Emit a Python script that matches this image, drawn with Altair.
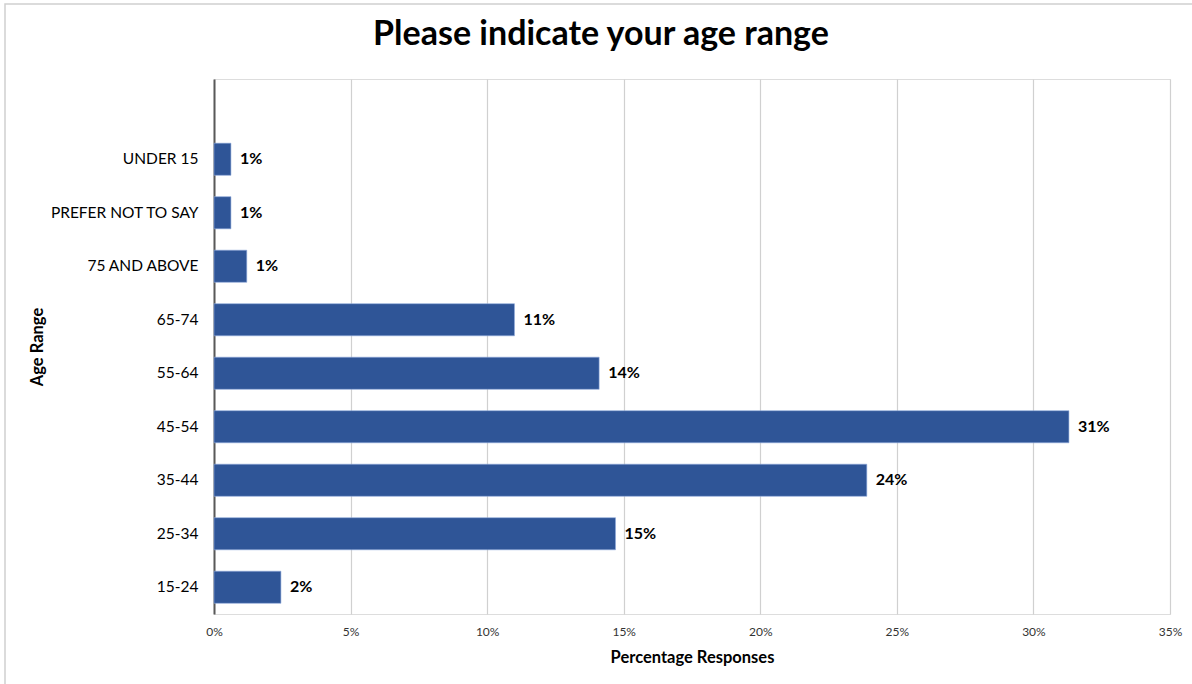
import altair as alt
import pandas as pd

categories = ["UNDER 15", "PREFER NOT TO SAY", "75 AND ABOVE", "65-74", "55-64",
              "45-54", "35-44", "25-34", "15-24"]
values = [0.62, 0.62, 1.2, 11.0, 14.1, 31.3, 23.9, 14.7, 2.45]
labels = ["1%", "1%", "1%", "11%", "14%", "31%", "24%", "15%", "2%"]
x_ticks = [0, 5, 10, 15, 20, 25, 30, 35]

df = pd.DataFrame({"cat": categories, "val": values, "lab": labels})
domain = [" "] + categories

FONT = "Lato"
BAR = "#2F5597"

y_enc = alt.Y("cat:N", sort=domain,
              scale=alt.Scale(domain=domain, paddingInner=0.4, paddingOuter=0.2),
              axis=alt.Axis(title="Age Range", titleFont=FONT, titleFontSize=16.5,
                            titleFontWeight="bold", titleColor="#000000",
                            titlePadding=4,
                            labelFont=FONT, labelFontSize=15.5, labelColor="#000000",
                            labelPadding=16, ticks=False, domain=True,
                            domainColor="#595959", domainWidth=2, grid=False))

x_enc = alt.X("val:Q",
              scale=alt.Scale(domain=[0, 35], nice=False),
              axis=alt.Axis(title="Percentage Responses", values=x_ticks,
                            labelExpr="datum.value + '%'", labelFlush=False,
                            titleFont=FONT, titleFontSize=16.5, titleFontWeight="bold",
                            titleColor="#000000", titlePadding=12,
                            labelFont=FONT, labelFontSize=12, labelColor="#333333",
                            labelPadding=12, ticks=False, domain=False,
                            grid=True, gridColor="#d0d0d0", gridWidth=1.2))

bars = alt.Chart(df).mark_bar(color=BAR, stroke="#8faadc", strokeWidth=0.6).encode(
    x=x_enc, y=y_enc)

text = alt.Chart(df).mark_text(align="left", dx=9, font=FONT, fontSize=16,
                               fontWeight="bold", color="#000000").encode(
    x="val:Q", y=alt.Y("cat:N", sort=domain), text="lab:N")

border = alt.Chart(pd.DataFrame({"a": [0]})).mark_rect(
    fill="transparent", stroke="#d0d0d0", strokeWidth=1.5).encode(
    x=alt.value(-209), y=alt.value(-75), x2=alt.value(1200), y2=alt.value(700))

chart = alt.layer(border, bars, text).properties(
    width=956, height=535,
    title=alt.TitleParams("Please indicate your age range", font=FONT, fontSize=34,
                          fontWeight="bold", color="#000000", anchor="middle",
                          dx=-91, offset=-49),
    padding={"left": 214, "top": 79, "right": 22, "bottom": 70},
    autosize=alt.AutoSizeParams(type="none"),
).configure_view(stroke="transparent", strokeWidth=0, fill="transparent").configure(background="#ffffff")

chart.save("out.html", embed_options={"renderer": "svg", "actions": False})
